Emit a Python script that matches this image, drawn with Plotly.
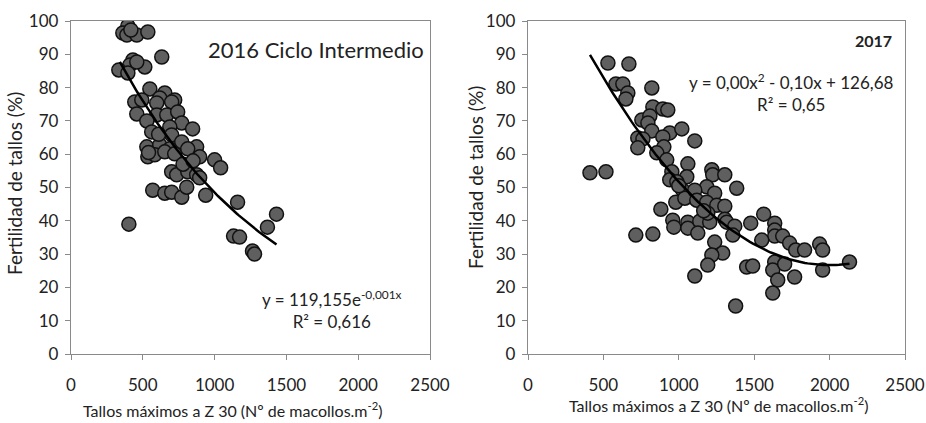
import numpy as np
import plotly.graph_objects as go

# ---------------- data ----------------
x2016 = [396, 361, 389, 458, 535, 417, 632, 431, 410, 514, 333, 396, 458, 549, 653, 618, 722, 444,
         493, 597, 701, 458, 597, 667, 743, 528, 771, 847, 688, 562, 701, 771, 528, 618, 688, 875,
         535, 583, 653, 722, 813, 896, 1000, 1042, 701, 736, 813, 875, 896, 569, 653, 701, 771, 806,
         938, 1160, 403, 1132, 1174, 1264, 1278, 1368, 1431, 540, 610, 780, 850]
y2016 = [98.5, 96.4, 95.8, 95.8, 96.7, 97.3, 89.2, 88.3, 86.8, 86.2, 85.3, 84.4, 87.7, 79.6, 78.4,
         76.9, 76.3, 75.7, 76.3, 75.4, 75.7, 72.1, 71.8, 71.8, 72.7, 70.0, 69.4, 67.6, 68.2, 66.7,
         65.8, 63.7, 62.2, 62.8, 61.6, 62.2, 59.2, 59.8, 60.7, 60.1, 61.6, 59.2, 58.3, 55.9, 54.7,
         53.8, 54.7, 53.8, 52.9, 49.2, 48.3, 48.6, 47.1, 50.1, 47.7, 45.6, 39.0, 35.4, 35.1, 30.9,
         30.0, 38.1, 42.0, 60.5, 66.0, 57.0, 58.0]

x2017 = [530, 669, 583, 629, 662, 649, 821, 828, 894, 927, 755, 808, 795, 821, 940, 1020, 1106, 728,
         762, 894, 728, 901, 854, 920, 411, 517, 954, 1060, 1053, 940, 987, 980, 881, 1026, 1093,
         715, 828, 960, 967, 1060, 1060, 1139, 1126, 1106, 1040, 1219, 1225, 1305, 1185, 1106, 1238,
         1119, 1185, 1252, 1305, 1205, 1192, 1305, 1384, 1238, 1318, 1371, 1358, 1291, 1219, 1192,
         1563, 1477, 1636, 1636, 1636, 1689, 1735, 1775, 1834, 1550, 1934, 1954, 1450, 1490, 1636,
         1623, 1702, 1656, 1768, 1954, 1623, 1377, 2132, 1000, 1165]
y2017 = [87.4, 87.1, 81.1, 81.1, 78.4, 76.6, 79.9, 74.2, 73.6, 73.3, 70.3, 71.5, 69.4, 67.0, 66.4,
         67.6, 64.0, 64.9, 64.6, 65.2, 61.9, 62.2, 60.4, 58.3, 54.4, 54.7, 54.7, 57.1, 53.2, 52.3,
         51.7, 45.6, 43.5, 49.2, 47.1, 35.7, 36.0, 40.2, 38.1, 39.6, 37.8, 39.9, 36.3, 23.4, 46.8,
         55.3, 53.8, 53.8, 50.2, 49.2, 48.3, 46.2, 45.6, 44.7, 44.4, 39.6, 42.3, 40.5, 49.8, 33.6,
         39.6, 38.4, 35.7, 30.3, 29.7, 26.7, 42.0, 39.3, 39.3, 37.2, 35.4, 35.4, 33.3, 31.2, 31.2,
         34.2, 33.0, 31.2, 26.1, 26.4, 27.6, 25.2, 27.0, 22.2, 23.1, 25.2, 18.3, 14.4, 27.6, 50.5,
         43.0]

# trend-line fit coefficients
exp_a, exp_k = 119.155, 0.0009
exp_range = [340, 1431]
quad_a, quad_b, quad_c = 2.5e-5, -0.10, 126.68
quad_range = [411, 2132]

x_ticks = [0, 500, 1000, 1500, 2000, 2500]
y_ticks = [0, 10, 20, 30, 40, 50, 60, 70, 80, 90, 100]

# ---------------- figure ----------------
W, H = 926, 423
FONT = "Lato"
TXT = "#222222"
fig = go.Figure()

marker = dict(size=14, color="#5f5f5f", line=dict(color="#111111", width=1.5))

fig.add_trace(go.Scatter(x=x2016, y=y2016, mode="markers", marker=marker,
                         xaxis="x", yaxis="y", showlegend=False))
tx1 = np.linspace(exp_range[0], exp_range[1], 100)
fig.add_trace(go.Scatter(x=tx1, y=exp_a * np.exp(-exp_k * tx1), mode="lines",
                         line=dict(color="black", width=2.5), xaxis="x", yaxis="y",
                         showlegend=False))

fig.add_trace(go.Scatter(x=x2017, y=y2017, mode="markers", marker=marker,
                         xaxis="x2", yaxis="y2", showlegend=False))
tx2 = np.linspace(quad_range[0], quad_range[1], 100)
fig.add_trace(go.Scatter(x=tx2, y=quad_a * tx2 ** 2 + quad_b * tx2 + quad_c, mode="lines",
                         line=dict(color="black", width=2.5), xaxis="x2", yaxis="y2",
                         showlegend=False))

ybot = (H - 354) / H
ytop = (H - 21) / H

axis_common = dict(showgrid=False, zeroline=False, showline=True, linecolor="#8a8a8a",
                   linewidth=1.3, mirror=True, ticks="outside", ticklen=5, tickcolor="#8a8a8a",
                   tickfont=dict(family=FONT, size=17, color=TXT))

fig.update_layout(
    width=W, height=H, margin=dict(l=0, r=0, t=0, b=0, autoexpand=False),
    paper_bgcolor="white", plot_bgcolor="white",
    xaxis=dict(domain=[71 / W, 430 / W], range=[0, 2500], tickvals=x_ticks, anchor="y",
               ticklabelstandoff=10, **axis_common),
    yaxis=dict(domain=[ybot, ytop], range=[0, 100], tickvals=y_ticks, anchor="x",
               ticklabelstandoff=3, **axis_common),
    xaxis2=dict(domain=[528 / W, 905 / W], range=[0, 2500], tickvals=x_ticks, anchor="y2",
                ticklabelstandoff=10, **axis_common),
    yaxis2=dict(domain=[ybot, ytop], range=[0, 100], tickvals=y_ticks, anchor="x2",
                ticklabelstandoff=3, **axis_common),
)

ann_font = dict(family=FONT, size=16, color=TXT)
ytitle_font = dict(family=FONT, size=19, color=TXT)
anns = [
    dict(text="Fertilidad de tallos (%)", xref="paper", yref="paper", x=15 / W,
         y=(H - 184) / H, xanchor="center", yanchor="middle", textangle=-90,
         showarrow=False, font=ytitle_font),
    dict(text="Fertilidad de tallos (%)", xref="paper", yref="paper", x=475 / W,
         y=(H - 177) / H, xanchor="center", yanchor="middle", textangle=-90,
         showarrow=False, font=ytitle_font),
    dict(text="Tallos máximos a Z 30 (Nº de macollos.m<sup>-2</sup>)", xref="paper", yref="paper",
         x=233 / W, y=(H - 409) / H, xanchor="center", yanchor="middle", showarrow=False,
         font=ann_font),
    dict(text="Tallos máximos a Z 30 (Nº de macollos.m<sup>-2</sup>)", xref="paper", yref="paper",
         x=718 / W, y=(H - 404) / H, xanchor="center", yanchor="middle", showarrow=False,
         font=ann_font),
    dict(text="2016 Ciclo Intermedio", xref="x", yref="y", x=2475, y=91.3, xanchor="right",
         yanchor="middle", showarrow=False, font=dict(family=FONT, size=22, color=TXT)),
    dict(text="y = 119,155e<sup>-0,001x</sup><br>R² = 0,616", xref="x", yref="y", x=1820,
         y=13.5, xanchor="center", yanchor="middle", showarrow=False, align="center",
         font=dict(family=FONT, size=17, color=TXT)),
    dict(text="<b>2017</b>", xref="x2", yref="y2", x=2430, y=94.0, xanchor="right",
         yanchor="middle", showarrow=False, font=dict(family=FONT, size=16, color=TXT)),
    dict(text="y = 0,00x<sup>2</sup> - 0,10x + 126,68<br>R² = 0,65", xref="x2", yref="y2",
         x=1750, y=78.5, xanchor="center", yanchor="middle", showarrow=False, align="center",
         font=dict(family=FONT, size=17, color=TXT)),
]
fig.update_layout(annotations=anns)

fig.write_html("out.html")
